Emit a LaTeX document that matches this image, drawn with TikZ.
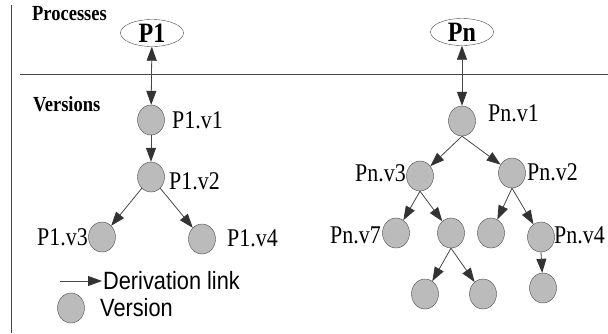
\documentclass[tikz,border=0pt]{standalone}
\usepackage{fontspec}
\setmainfont{Liberation Serif}[FakeStretch=0.86]
\newfontfamily\legendfont{Liberation Sans}[FakeStretch=0.87]
\usetikzlibrary{shapes.geometric,arrows.meta}
\definecolor{vergray}{RGB}{187,187,187}
\definecolor{linegray}{RGB}{70,70,70}

\begin{document}
\begin{tikzpicture}
  [x=1pt,y=-1pt,
   >={Triangle[length=14pt,width=10pt,color=black!80]},
   version/.style={ellipse,draw=linegray,fill=vergray,minimum width=27pt,minimum height=30pt,inner sep=0pt},
   process/.style={ellipse,draw=linegray,minimum width=63pt,minimum height=27pt,inner sep=0pt,font=\fontsize{28}{30}\selectfont\bfseries},
   vlabel/.style={inner sep=0pt,font=\fontsize{25.5}{27}\selectfont},
   head/.style={anchor=west,inner sep=0pt,font=\fontsize{21.5}{23}\selectfont\bfseries},
   link/.style={draw=linegray,line width=0.8pt}]
  \useasboundingbox (0,0) rectangle (608,333);

  % frame lines
  \coordinate (ltop) at (11,5);
  \coordinate (lbot) at (11,333);
  \coordinate (hleft) at (20,74);
  \coordinate (hright) at (608,74);
  \draw[linegray,line width=0.8pt] (ltop) -- (lbot);
  \draw[linegray,line width=0.8pt] (hleft) -- (hright);

  \node[head] (proc) at (32,14) {Processes};
  \node[head] (vers) at (33,104) {Versions};

  % processes
  \node[process] (p1) at (152,33) {P1};
  \node[process] (pn) at (462,32) {Pn};

  % versions of P1
  \node[version] (p1v1) at (151,120) {};
  \node[version] (p1v2) at (151,177) {};
  \node[version] (p1v3) at (102,237) {};
  \node[version] (p1v4) at (202,239) {};

  \node[vlabel,anchor=west] (l1v1) at (172,120) {P1.v1};
  \node[vlabel,anchor=west] (l1v2) at (169,181) {P1.v2};
  \node[vlabel,anchor=east] (l1v3) at (88,237) {P1.v3};
  \node[vlabel,anchor=west] (l1v4) at (227,238) {P1.v4};

  % versions of Pn
  \node[version] (pnv1) at (462,121) {};
  \node[version] (pnv3) at (420,176) {};
  \node[version] (pnv2) at (512,173) {};
  \node[version] (pnv7) at (396,233) {};
  \node[version] (pnva) at (451,233) {};
  \node[version] (pnvb) at (491,233) {};
  \node[version] (pnv4) at (541,237) {};
  \node[version] (pnvc) at (425,294) {};
  \node[version] (pnvd) at (483,294) {};
  \node[version] (pnve) at (543,288) {};

  \node[vlabel,anchor=west] (lnv1) at (488,113) {Pn.v1};
  \node[vlabel,anchor=east] (lnv3) at (406,173) {Pn.v3};
  \node[vlabel,anchor=west] (lnv2) at (527,172) {Pn.v2};
  \node[vlabel,anchor=east] (lnv7) at (381,235) {Pn.v7};
  \node[vlabel,anchor=west] (lnv4) at (554,235) {Pn.v4};

  % links
  \draw[link,<->] (p1) -- (p1v1);
  \draw[link,<->] (pn) -- (pnv1);

  \foreach \from/\to in {p1v1/p1v2, p1v2/p1v3, p1v2/p1v4}
    \draw[link,->] (\from) -- (\to);

  \foreach \from/\to in {pnv1/pnv3, pnv1/pnv2, pnv3/pnv7, pnv3/pnva,
                         pnv2/pnvb, pnv2/pnv4, pnva/pnvc, pnva/pnvd, pnv4/pnve}
    \draw[link,->] (\from.south) -- (\to);

  % legend
  \coordinate (legA) at (60,281);
  \coordinate (legB) at (102,281);
  \draw[link,->] (legA) -- (legB);
  \node[anchor=west,inner sep=0pt,font=\legendfont\fontsize{25}{27}\selectfont] (legtxt) at (103,281) {Derivation link};
  \node[version] (legver) at (71,308) {};
  \node[anchor=west,inner sep=0pt,font=\legendfont\fontsize{25}{27}\selectfont] (legvtxt) at (100,308) {Version};
\end{tikzpicture}
\end{document}
